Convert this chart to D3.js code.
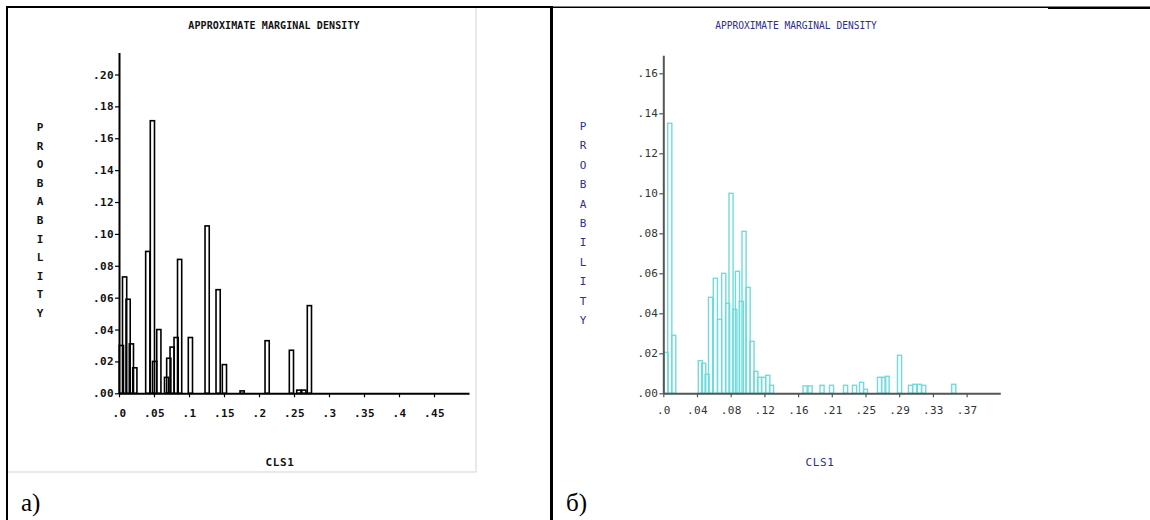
<!DOCTYPE html>
<html>
<head>
<meta charset="utf-8">
<script src="https://cdn.jsdelivr.net/npm/d3@7"></script>
<style>
  html, body { margin: 0; padding: 0; background: #fff; }
  svg { display: block; }
</style>
</head>
<body>
<svg id="fig" width="1150" height="520"></svg>
<script>
// ---------- Panel a): approximate marginal density of CLS1 ----------
const binStartA = [0.0004, 0.0050, 0.0100, 0.0147, 0.0196, 0.0381, 0.0447, 0.0479, 0.0539,
                   0.0650, 0.0681, 0.0729, 0.0786, 0.0836, 0.0990, 0.1229, 0.1386, 0.1476,
                   0.1729, 0.2086, 0.2433, 0.2539, 0.2610, 0.2690];
const probA     = [0.030, 0.073, 0.059, 0.031, 0.016, 0.089, 0.171, 0.020, 0.040,
                   0.010, 0.022, 0.029, 0.035, 0.084, 0.035, 0.105, 0.065, 0.018,
                   0.0015, 0.033, 0.027, 0.002, 0.002, 0.055];
const binWidthA = 0.006;
const yTicksA = [0, 0.02, 0.04, 0.06, 0.08, 0.10, 0.12, 0.14, 0.16, 0.18, 0.20];
const yTickLabelsA = [".00", ".02", ".04", ".06", ".08", ".10", ".12", ".14", ".16", ".18", ".20"];
const xTicksA = [0, 0.05, 0.10, 0.15, 0.20, 0.25, 0.30, 0.35, 0.40, 0.45];
const xTickLabelsA = [".0", ".05", ".1", ".15", ".2", ".25", ".3", ".35", ".4", ".45"];

// ---------- Panel б): approximate marginal density of CLS1 ----------
const binStartB = [0.0009, 0.0054, 0.0102,
                   0.0427, 0.0468, 0.0509, 0.0551, 0.0610, 0.0661, 0.0712, 0.0759, 0.0801,
                   0.0848, 0.0880, 0.0927, 0.0960, 0.1009, 0.1057, 0.1104, 0.1149, 0.1198,
                   0.1249, 0.1295,
                   0.1704, 0.1765, 0.1911, 0.2027, 0.2198, 0.2307, 0.2393, 0.2441, 0.2612,
                   0.2663, 0.2704, 0.2856, 0.2990, 0.3041, 0.3098, 0.3151, 0.3517];
const probB     = [0.0205, 0.135, 0.029,
                   0.0163, 0.015, 0.0095, 0.048, 0.0575, 0.037, 0.060, 0.045, 0.100,
                   0.042, 0.061, 0.046, 0.081, 0.053, 0.026, 0.011, 0.008, 0.008,
                   0.009, 0.004,
                   0.0037, 0.0037, 0.004, 0.004, 0.004, 0.004, 0.0055, 0.002, 0.008,
                   0.008, 0.0085, 0.019, 0.004, 0.0045, 0.0045, 0.004, 0.0045];
const binWidthB = 0.0050;
const yTicksB = [0, 0.02, 0.04, 0.06, 0.08, 0.10, 0.12, 0.14, 0.16];
const yTickLabelsB = [".00", ".02", ".04", ".06", ".08", ".10", ".12", ".14", ".16"];
const xTicksB = [0, 0.0411, 0.0822, 0.1233, 0.1644, 0.2055, 0.2466, 0.2877, 0.3288, 0.3699];
const xTickLabelsB = [".0", ".04", ".08", ".12", ".16", ".21", ".25", ".29", ".33", ".37"];

const yLabelText = "PROBABILITY";
const svg = d3.select("#fig");
const MONO = "'DejaVu Sans Mono', 'Liberation Mono', monospace";

// ---------- page frame (document table cells) ----------
const frame = svg.append("g").attr("stroke", "#000").attr("fill", "none");
frame.append("line").attr("x1", 6).attr("x2", 552).attr("y1", 7).attr("y2", 7).attr("stroke-width", 2);
frame.append("line").attr("x1", 7).attr("x2", 7).attr("y1", 6).attr("y2", 520).attr("stroke-width", 2);
frame.append("line").attr("x1", 551.5).attr("x2", 551.5).attr("y1", 6).attr("y2", 520).attr("stroke-width", 3);
frame.append("line").attr("x1", 553).attr("x2", 1048).attr("y1", 7.3).attr("y2", 7.3).attr("stroke-width", 1.4);
frame.append("line").attr("x1", 1048).attr("x2", 1150).attr("y1", 7.8).attr("y2", 7.8).attr("stroke-width", 2.6);
// light border of the embedded plot a)
frame.append("path").attr("d", "M476,8 V472 H8").attr("stroke", "#e2e2e2").attr("stroke-width", 1.5);

svg.append("text").attr("x", 21).attr("y", 511)
  .attr("font-family", "'Liberation Serif', 'Times New Roman', serif").attr("font-size", 25)
  .attr("fill", "#000").text("a)");
svg.append("text").attr("x", 566).attr("y", 511)
  .attr("font-family", "'Liberation Serif', 'Times New Roman', serif").attr("font-size", 25)
  .attr("fill", "#000").text("б)");

// ---------- generic density panel ----------
function drawPanel(cfg) {
  const g = svg.append("g");
  const x = d3.scaleLinear().domain(cfg.xDomain).range(cfg.xRange);
  const y = d3.scaleLinear().domain(cfg.yDomain).range(cfg.yRange);

  // bars (outlined, overlapping outlines remain visible)
  g.append("g")
    .selectAll("rect")
    .data(cfg.starts.map((s, i) => ({ s, v: cfg.values[i] })))
    .join("rect")
    .attr("x", d => x(d.s))
    .attr("width", d => x(d.s + cfg.binWidth) - x(d.s))
    .attr("y", d => y(d.v))
    .attr("height", d => y(0) - y(d.v))
    .attr("fill", "none")
    .attr("stroke", cfg.barColor)
    .attr("stroke-width", cfg.barStroke);

  // y axis
  const ya = g.append("g")
    .attr("transform", `translate(${cfg.xRange[0]},0)`)
    .call(d3.axisLeft(y).tickValues(cfg.yTicks).tickSize(cfg.tickLen).tickSizeOuter(0)
      .tickPadding(cfg.yPad).tickFormat((d, i) => cfg.yLabels[i]));
  // x axis
  const xa = g.append("g")
    .attr("transform", `translate(0,${y(0)})`)
    .call(d3.axisBottom(x).tickValues(cfg.xTicks).tickSize(cfg.tickLen).tickSizeOuter(0)
      .tickPadding(cfg.xPad).tickFormat((d, i) => cfg.xLabels[i]));

  [ya, xa].forEach(a => {
    a.select(".domain").attr("stroke", cfg.axisColor).attr("stroke-width", cfg.axisStroke);
    a.selectAll(".tick line").attr("stroke", cfg.axisColor).attr("stroke-width", 1.2);
    a.selectAll(".tick text")
      .attr("fill", cfg.tickColor)
      .attr("font-family", MONO)
      .attr("font-size", cfg.tickFont)
      .attr("font-weight", cfg.weight)
      .attr("letter-spacing", cfg.tickSpacing);
  });

  // title
  g.append("text")
    .attr("x", cfg.titleX).attr("y", 29)
    .attr("text-anchor", "middle")
    .attr("font-family", MONO).attr("font-size", cfg.titleFont)
    .attr("font-weight", cfg.weight)
    .attr("letter-spacing", cfg.titleSpacing)
    .attr("fill", cfg.textColor)
    .text("APPROXIMATE MARGINAL DENSITY");

  // x label
  g.append("text")
    .attr("x", cfg.xLabelX).attr("y", 466)
    .attr("text-anchor", "middle")
    .attr("font-family", MONO).attr("font-size", cfg.tickFont)
    .attr("font-weight", cfg.weight)
    .attr("letter-spacing", 0.6)
    .attr("fill", cfg.textColor)
    .text("CLS1");

  // stacked vertical y label
  g.append("g")
    .selectAll("text")
    .data(yLabelText.split(""))
    .join("text")
    .attr("x", cfg.yLabelX)
    .attr("y", (d, i) => cfg.yLabelTop + i * cfg.yLabelStep)
    .attr("text-anchor", "middle")
    .attr("font-family", MONO).attr("font-size", cfg.tickFont)
    .attr("font-weight", cfg.weight)
    .attr("fill", cfg.textColor)
    .text(d => d);
}

drawPanel({
  xDomain: [0, 0.5], xRange: [119, 469],
  yDomain: [0, 0.2138], yRange: [393.3, 52.5],
  starts: binStartA, values: probA, binWidth: binWidthA,
  barColor: "#000", barStroke: 1.6,
  yTicks: yTicksA, yLabels: yTickLabelsA, xTicks: xTicksA, xLabels: xTickLabelsA,
  tickLen: 4, yPad: 1, xPad: 12,
  axisColor: "#000", axisStroke: 2,
  tickColor: "#111", textColor: "#111", weight: "bold",
  tickFont: 11, tickSpacing: 0.4,
  titleX: 274, titleFont: 10, titleSpacing: 0.1,
  xLabelX: 280, yLabelX: 40, yLabelTop: 131, yLabelStep: 18.6
});

drawPanel({
  xDomain: [0, 0.411], xRange: [663.3, 1000.3],
  yDomain: [0, 0.169], yRange: [393.3, 55.3],
  starts: binStartB, values: probB, binWidth: binWidthB,
  barColor: "#6fdcdc", barStroke: 1.4,
  yTicks: yTicksB, yLabels: yTickLabelsB, xTicks: xTicksB, xLabels: xTickLabelsB,
  tickLen: 4, yPad: 1, xPad: 9,
  axisColor: "#555", axisStroke: 2,
  tickColor: "#333", textColor: "#2e2e8c", weight: "normal",
  tickFont: 11, tickSpacing: 0.3,
  titleX: 796, titleFont: 9.6, titleSpacing: 0,
  xLabelX: 820, yLabelX: 583, yLabelTop: 130, yLabelStep: 19.4
});
</script>
</body>
</html>
